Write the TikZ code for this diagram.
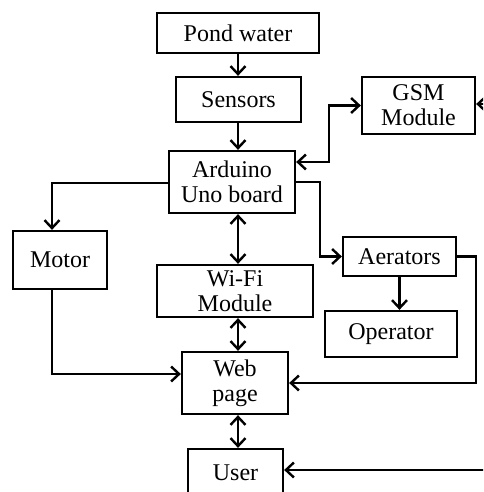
\documentclass[tikz,border=0pt]{standalone}
\usepackage{fontspec}
\setmainfont{Liberation Serif}
\usetikzlibrary{arrows.meta,calc}
\begin{document}
\begin{tikzpicture}[x=1pt,y=-1pt,
  blk/.style={draw,line width=2.3pt,inner sep=0pt,align=center,font=\fontsize{24}{25}\selectfont},
  conn/.style={line width=2.6pt,-{Straight Barb[length=8pt,width=15pt,line width=2.4pt]}},
  bidir/.style={line width=2.6pt,{Straight Barb[length=8pt,width=15pt,line width=2.4pt]}-{Straight Barb[length=8pt,width=15pt,line width=2.4pt]}}]
\useasboundingbox (0,0) rectangle (483,492);
\clip (0,0) rectangle (483,492);
\node[blk,minimum width=162pt,minimum height=40pt] (pond) at (238,33) {Pond water};
\node[blk,minimum width=125pt,minimum height=45pt] (sensors) at (238.5,99.5) {Sensors};
\node[blk,minimum width=113pt,minimum height=57pt] (gsm) at (418.5,105.5) {GSM\\Module};
\node[blk,minimum width=126pt,minimum height=62pt] (arduino) at (232,182) {Arduino\\Uno board};
\node[blk,minimum width=94pt,minimum height=58pt] (motor) at (60,260) {Motor};
\node[blk,minimum width=113pt,minimum height=39pt] (aerators) at (399.5,256.5) {Aerators};
\node[blk,minimum width=156pt,minimum height=52pt] (wifi) at (235,291) {Wi-Fi\\Module};
\node[blk,minimum width=132pt,minimum height=46pt] (operator) at (391,334) {Operator};
\node[blk,minimum width=106pt,minimum height=62pt] (web) at (235,383) {Web\\page};
\node[blk,minimum width=95pt,minimum height=48pt] (user) at (235.5,473) {User};
\coordinate (X) at (238,0);
\coordinate (gsmin) at (484,104);
\coordinate (userin) at (484,470);
\draw[conn] (pond.south -| X) -- (sensors.north -| X);
\draw[conn] (sensors.south -| X) -- (arduino.north -| X);
\draw[bidir] ([yshift=20pt]arduino.east) -- ++(33,0) |- (gsm.west);
\draw[conn] (gsmin) -- (gsm.east |- gsmin);
\draw[conn] ([yshift=-1pt]arduino.west) -| ([xshift=-8pt]motor.north);
\draw[conn] (arduino.east) -- ++(24,0) |- (aerators.west);
\draw[bidir] (arduino.south -| X) -- (wifi.north -| X);
\draw[bidir] (wifi.south -| X) -- (web.north -| X);
\draw[bidir] (web.south -| X) -- (user.north -| X);
\draw[conn] (aerators.south) -- (aerators.south |- operator.north);
\draw[conn] ([xshift=-8pt]motor.south) |- ([yshift=9pt]web.west);
\draw[conn] (aerators.east) -- ++(19,0) |- (web.east);
\draw[conn] (userin) -- (user.east |- userin);
\end{tikzpicture}
\end{document}
